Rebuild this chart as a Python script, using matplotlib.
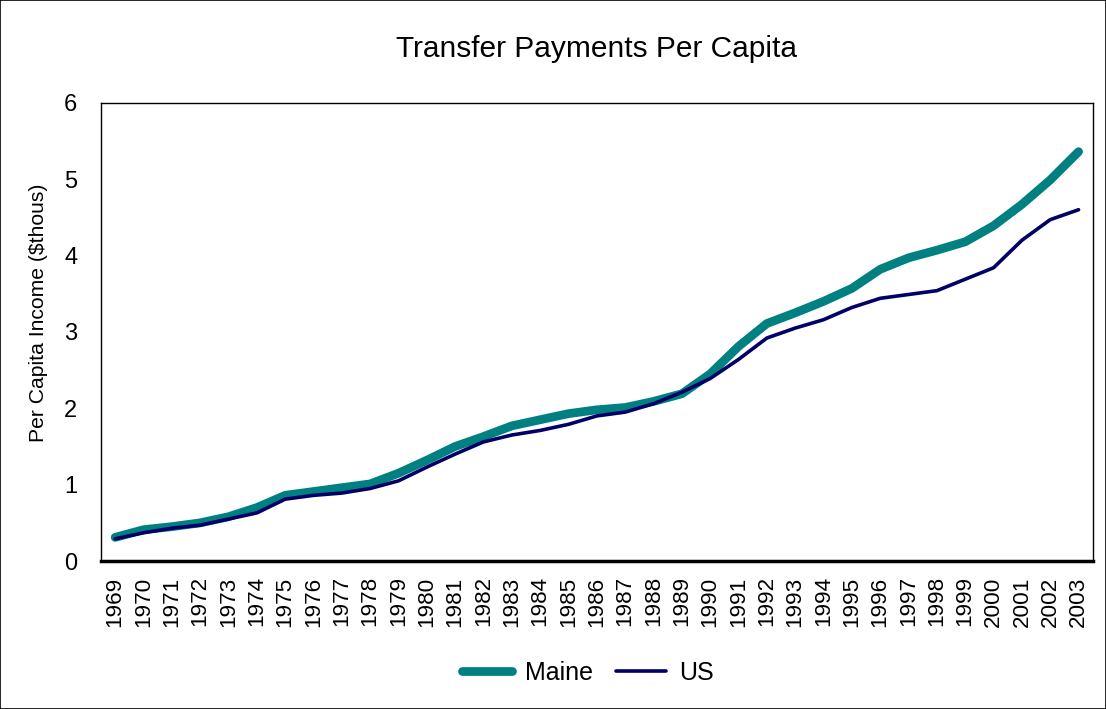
import matplotlib.pyplot as plt
import numpy as np

plt.rcParams['font.family'] = ['Liberation Sans', 'DejaVu Sans']

# --- Data ---
years = [str(y) for y in range(1969, 2004)]
maine = [0.31, 0.41, 0.45, 0.50, 0.58, 0.70, 0.86, 0.91, 0.96, 1.01, 1.15,
         1.32, 1.50, 1.63, 1.77, 1.85, 1.93, 1.98, 2.01, 2.09, 2.19, 2.45,
         2.81, 3.11, 3.25, 3.40, 3.57, 3.82, 3.97, 4.07, 4.18, 4.39, 4.67,
         4.99, 5.36]
us = [0.29, 0.37, 0.43, 0.47, 0.55, 0.63, 0.81, 0.86, 0.89, 0.95, 1.05,
      1.23, 1.40, 1.56, 1.65, 1.71, 1.79, 1.90, 1.95, 2.06, 2.21, 2.39,
      2.64, 2.92, 3.05, 3.16, 3.32, 3.44, 3.49, 3.54, 3.69, 3.84, 4.20,
      4.47, 4.60]

# --- Plot ---
fig = plt.figure(figsize=(11.06, 7.09), dpi=100)
ax = fig.add_axes([0.0913, 0.2087, 0.8967, 0.6463])

x = np.arange(len(years))
ax.plot(x, maine, color='#008080', lw=6.3, solid_capstyle='round', label='Maine')
ax.plot(x, us, color='#000066', lw=2.6, solid_capstyle='round', label='US')

ax.set_xlim(-0.5, len(years) - 0.5)
ax.set_ylim(0, 6)
ax.set_yticks(range(7))
ax.set_xticks(x)
ax.set_xticklabels(years, rotation=90)
ax.tick_params(axis='both', length=0)
ax.tick_params(axis='y', pad=17, labelsize=17)
ax.tick_params(axis='x', pad=11, labelsize=16.2)
for s in ax.spines.values():
    s.set_linewidth(1.0)
ax.spines['bottom'].set_linewidth(2.5)

ax.set_title('Transfer Payments Per Capita', fontsize=21.5, pad=33)
ax.set_ylabel('Per Capita Income (\\$thous)', fontsize=15.2)
ax.yaxis.set_label_coords(-0.053, 0.541)

ax.legend(loc='upper center', bbox_to_anchor=(0.491, -0.168), ncol=2,
          frameon=False, fontsize=18, handlelength=2.0, handletextpad=0.5,
          columnspacing=0.95)

# outer frame
fig.patches.append(plt.Rectangle((0, 0), 1, 1, transform=fig.transFigure,
                                 fill=False, edgecolor='black', lw=1.2))

plt.savefig('out.png', dpi=100)
